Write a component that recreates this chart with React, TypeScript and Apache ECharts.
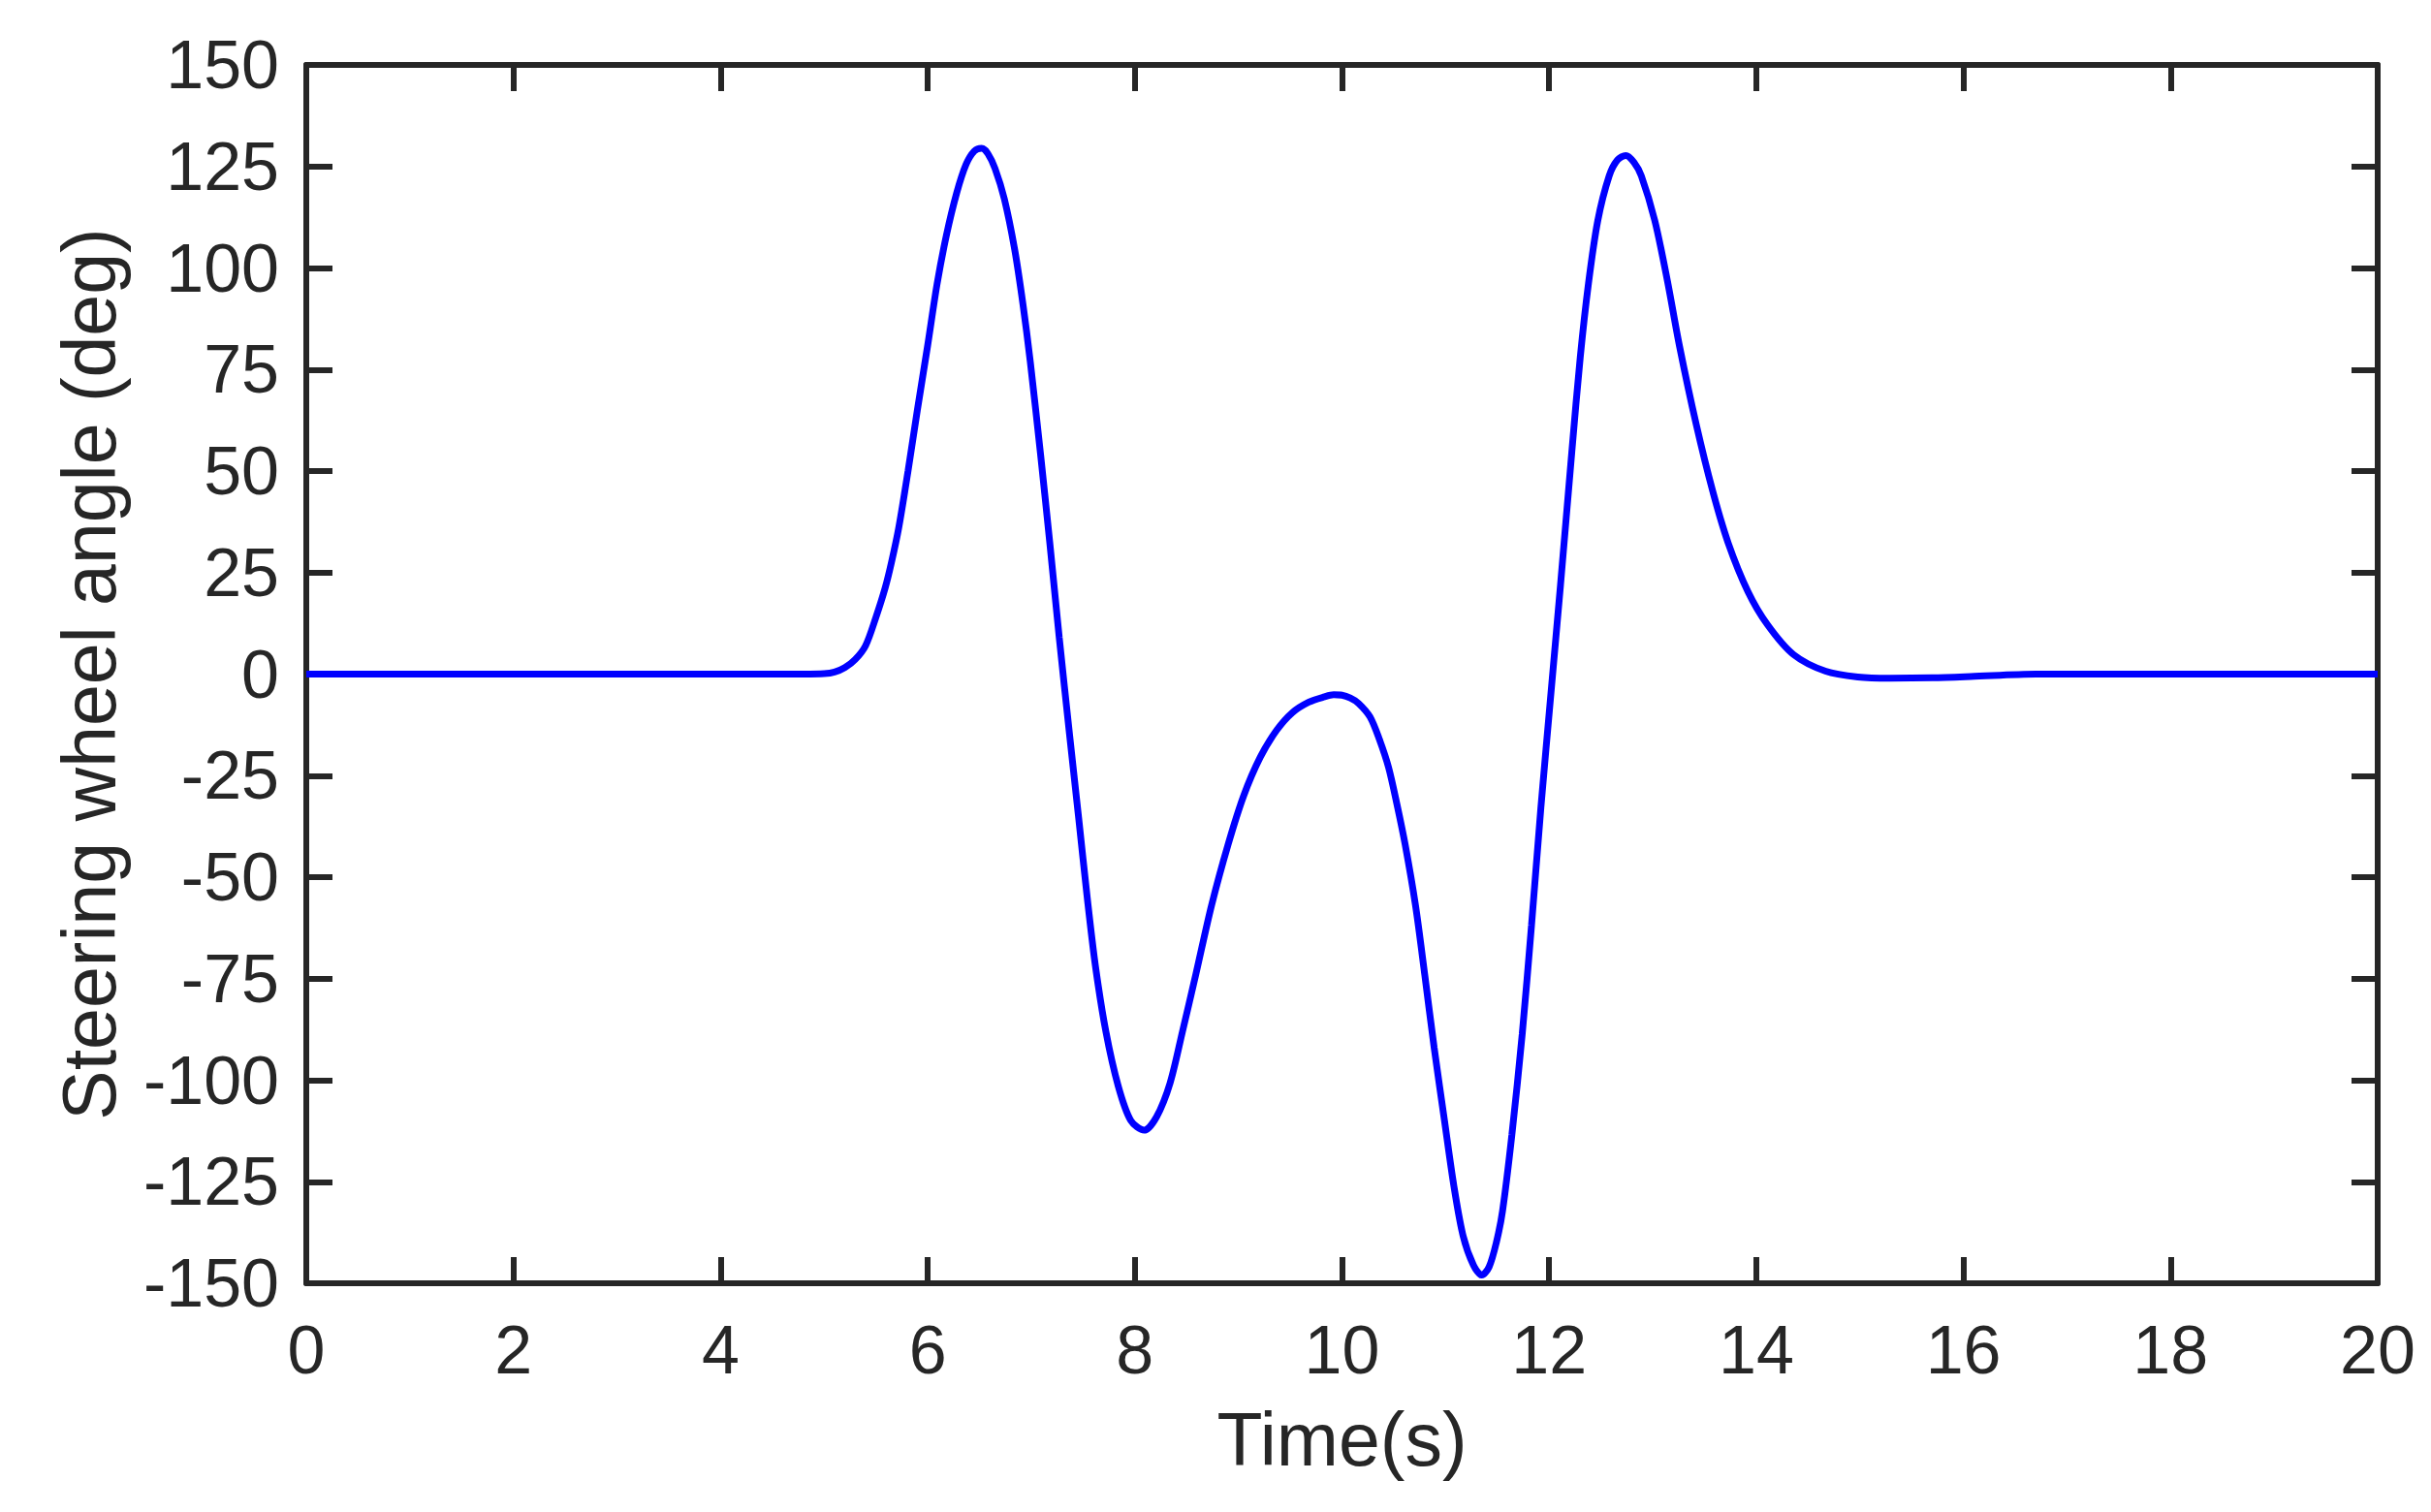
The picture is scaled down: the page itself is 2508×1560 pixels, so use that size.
import React, { useEffect, useRef } from "react";
import * as echarts from "echarts";

// Time (s)
const timeS = [
  0, 1, 2, 3, 4, 4.8, 5.0, 5.1, 5.2, 5.3, 5.4, 5.5, 5.59, 5.65, 5.72, 5.81, 5.9, 6.0, 6.09, 6.18,
  6.28, 6.37, 6.45, 6.52, 6.58, 6.65, 6.74, 6.84, 6.92, 6.99, 7.09, 7.18, 7.27, 7.37, 7.46, 7.54,
  7.62, 7.72, 7.84, 7.96, 8.09, 8.21, 8.34, 8.46, 8.59, 8.74, 8.9, 9.05, 9.21, 9.37, 9.52, 9.68,
  9.83, 9.92, 10.0, 10.08, 10.16, 10.27, 10.36, 10.45, 10.53, 10.61, 10.71, 10.8, 10.89, 10.99, 11.08,
  11.17, 11.27, 11.35, 11.42, 11.49, 11.55, 11.64, 11.74, 11.83, 11.92, 12.02, 12.11, 12.22, 12.3,
  12.38, 12.47, 12.58, 12.66, 12.74, 12.82, 12.89, 13.02, 13.14, 13.26, 13.42, 13.58, 13.73, 13.92,
  14.11, 14.36, 14.67, 14.98, 15.29, 15.7, 16.07, 16.7, 17, 18, 19, 20,
];

// Steering wheel angle (deg)
const angleDeg = [
  0, 0, 0, 0, 0, 0, 0.1, 0.5, 1.6, 3.6, 7, 14, 21.3, 27.5, 36, 50, 65, 81, 96, 108,
  118.5, 125.5, 128.8, 129.5, 128.2, 124.5, 117, 104.5, 91, 77, 54, 32, 9, -15, -36, -55,
  -72, -88, -101.5, -109.9, -112.3, -109, -100.7, -88, -73.8, -57, -42, -30, -20.5, -13.8, -9.5, -6.9,
  -5.6, -5.1, -5.2, -5.9, -7.2, -10.5, -16, -23, -32, -42, -57, -74.2, -92, -110, -126,
  -138.4, -145.6, -148, -146, -140, -132.2, -113.5, -88.7, -61.8, -33, -4, 22, 55, 77.9,
  96.2, 111.7, 122.7, 126.6, 127.7, 126, 122.7, 111.7, 97.1, 80.6, 61.5, 45, 32.2, 20.3,
  12.1, 4.8, 0.7, -0.7, -1.0, -0.9, -0.6, 0, 0, 0, 0, 0,
];

const xMin = 0;
const xMax = 20;
const xStep = 2;
const yMin = -150;
const yMax = 150;
const yStep = 25;

const xTitle = "Time(s)";
const yTitle = "Steering wheel angle (deg)";

const INK = "#262626";
const FONT = "'Liberation Sans', Arial, Helvetica, sans-serif";

export default function App() {
  const ref = useRef<HTMLDivElement>(null);

  useEffect(() => {
    document.body.style.margin = "0";
    if (!ref.current) return;
    const chart = echarts.init(ref.current, undefined, { renderer: "svg" });

    const lineStyle = { color: INK, width: 6 };
    const tick = { show: true, inside: true, length: 27, lineStyle: { color: INK, width: 6 } };

    chart.setOption({
      animation: false,
      backgroundColor: "#ffffff",
      grid: { left: 316, right: 55, top: 67, bottom: 236, containLabel: false },
      xAxis: [
        {
          type: "value",
          min: xMin,
          max: xMax,
          interval: xStep,
          position: "bottom",
          axisLine: { show: true, onZero: false, lineStyle },
          axisTick: tick,
          splitLine: { show: false },
          axisLabel: { color: INK, fontSize: 70, fontFamily: FONT, margin: 34 },
          name: xTitle,
          nameLocation: "middle",
          nameGap: 122,
          nameTextStyle: { color: INK, fontSize: 77, fontFamily: FONT },
        },
        {
          type: "value",
          min: xMin,
          max: xMax,
          interval: xStep,
          position: "top",
          axisLine: { show: true, onZero: false, lineStyle },
          axisTick: tick,
          splitLine: { show: false },
          axisLabel: { show: false },
        },
      ],
      yAxis: [
        {
          type: "value",
          min: yMin,
          max: yMax,
          interval: yStep,
          position: "left",
          axisLine: { show: true, onZero: false, lineStyle },
          axisTick: tick,
          splitLine: { show: false },
          axisLabel: { color: INK, fontSize: 70, fontFamily: FONT, margin: 28 },
          name: yTitle,
          nameLocation: "middle",
          nameGap: 186,
          nameRotate: 90,
          nameTextStyle: { color: INK, fontSize: 77, fontFamily: FONT },
        },
        {
          type: "value",
          min: yMin,
          max: yMax,
          interval: yStep,
          position: "right",
          axisLine: { show: true, onZero: false, lineStyle },
          axisTick: tick,
          splitLine: { show: false },
          axisLabel: { show: false },
        },
      ],
      series: [
        {
          type: "line",
          xAxisIndex: 0,
          yAxisIndex: 0,
          data: timeS.map((t, i) => [t, angleDeg[i]]),
          showSymbol: false,
          smooth: 0.3,
          lineStyle: { color: "#0000ff", width: 7 },
          z: 1,
        },
      ],
    });

    return () => chart.dispose();
  }, []);

  return <div ref={ref} style={{ width: 2508, height: 1560 }} />;
}
